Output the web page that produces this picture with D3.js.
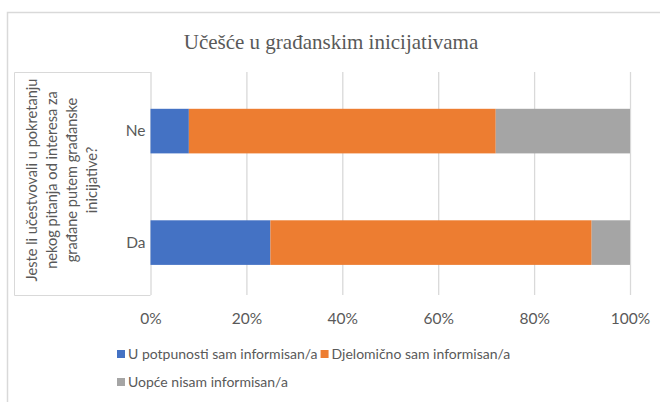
<!DOCTYPE html>
<html><head><meta charset="utf-8">
<script src="https://cdn.jsdelivr.net/npm/d3@7"></script>
<style>body{margin:0;background:#fff}svg{display:block}</style>
</head><body>
<script>
const title = "Učešće u građanskim inicijativama";
const categories = ["Ne", "Da"];
const seriesNames = ["U potpunosti sam informisan/a", "Djelomično sam informisan/a", "Uopće nisam informisan/a"];
const seriesColors = ["#4472c4", "#ed7d31", "#a5a5a5"];
const potpuno = [8, 25];
const djelomicno = [64, 67];
const nimalo = [28, 8];
const tickValues = [0, 20, 40, 60, 80, 100];
const axisTitleLines = ["Jeste li učestvovali u pokretanju", "nekog pitanja od interesa za", "građane putem građanske", "inicijative?"];

const W = 660, H = 402;
const svg = d3.select("body").append("svg").attr("width", W).attr("height", H);
const font = "Lato, 'Open Sans', sans-serif";
const txt = "#595959", grid = "#d9d9d9";

// outer chart border
svg.append("path").attr("d", `M7.5,${H+2}V12.5H${W+2}`).attr("fill","none").attr("stroke","#d9d9d9").attr("stroke-width",1.5);

svg.append("text").attr("x", 331).attr("y", 49).attr("text-anchor","middle")
  .attr("font-family","'Liberation Serif', 'Times New Roman', serif").attr("font-size",21).attr("fill",txt).text(title);

const pTop = 72, pBottom = 295, pLeft = 150.5, pRight = 630;
const x = d3.scaleLinear().domain([0,100]).range([pLeft, pRight]);
const y = d3.scaleBand().domain(categories).range([pTop, pBottom]).paddingInner(0.6).paddingOuter(0.3).align(0.55);

// axis title box
svg.append("path").attr("d", `M${pLeft},${pTop+0.5}H14.5V${pBottom+0.5}H${pLeft}`).attr("fill","none").attr("stroke",grid).attr("stroke-width",1);

// gridlines via axis
const gx = svg.append("g").attr("transform", `translate(0,${pBottom})`)
  .call(d3.axisBottom(x).tickValues(tickValues).tickSize(-(pBottom-pTop)).tickFormat(d => d + "%"));
gx.select(".domain").remove();
gx.selectAll(".tick line").attr("stroke", grid).attr("stroke-width",1.3);
gx.selectAll(".tick text").attr("y", 29).attr("dy", 0).attr("fill", txt).attr("font-family", font).attr("font-size", 15.5);

const series = [potpuno, djelomicno, nimalo];
const stacked = categories.map((c, i) => {
  let acc = 0;
  return series.map((s, k) => { const d = {cat:c, k, x0:acc, x1:acc + s[i]}; acc += s[i]; return d; });
});
svg.append("g").selectAll("g").data(stacked).join("g").selectAll("rect").data(d => d).join("rect")
  .attr("x", d => x(d.x0)).attr("width", d => x(d.x1) - x(d.x0))
  .attr("y", d => y(d.cat)).attr("height", y.bandwidth())
  .attr("fill", d => seriesColors[d.k]);

// category labels
const gy = svg.append("g").attr("transform", `translate(${pLeft},0)`).call(d3.axisLeft(y).tickSize(0).tickPadding(5));
gy.select(".domain").remove();
gy.selectAll(".tick text").attr("fill", txt).attr("font-family", font).attr("font-size", 15.5);

// rotated axis title
const cy = 180;
const at = svg.append("text").attr("transform", `translate(0,${cy}) rotate(-90)`)
  .attr("text-anchor","middle").attr("font-family", font).attr("font-size", 14.6).attr("fill", txt);
axisTitleLines.forEach((l, i) => at.append("tspan").attr("x", 0).attr("y", 37 + i*20).text(l));

// legend
const legendRows = [[0,1],[2]];
legendRows.forEach((row, r) => {
  let lx = 117;
  const ly = 359 + r*28;
  row.forEach(k => {
    svg.append("rect").attr("x", lx).attr("y", ly - 9).attr("width", 8).attr("height", 8).attr("fill", seriesColors[k]);
    const t = svg.append("text").attr("x", lx + 11).attr("y", ly).attr("font-family", font).attr("font-size", 14).attr("fill", txt).text(seriesNames[k]);
    lx += 11 + t.node().getComputedTextLength() + 3;
  });
});
</script>
</body></html>
